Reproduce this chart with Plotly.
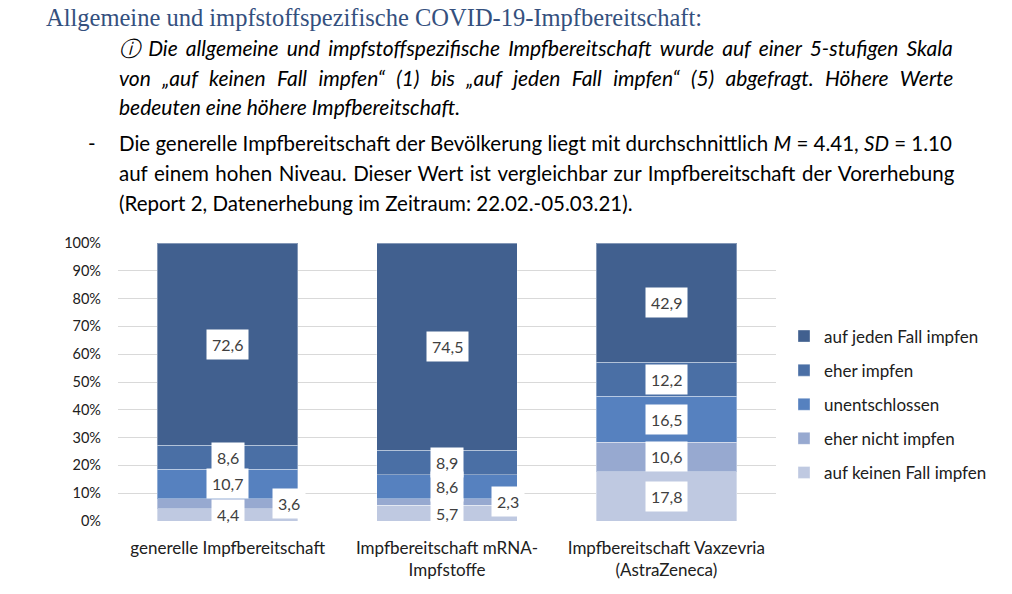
import plotly.graph_objects as go

# ── data ─────────────────────────────────────────────────────────────
categories = [
    "generelle Impfbereitschaft",
    "Impfbereitschaft mRNA-<br>Impfstoffe",
    "Impfbereitschaft Vaxzevria<br>(AstraZeneca)",
]
series_names = [
    "auf keinen Fall impfen",
    "eher nicht impfen",
    "unentschlossen",
    "eher impfen",
    "auf jeden Fall impfen",
]
values = [
    [4.4, 5.7, 17.8],    # auf keinen Fall impfen
    [3.6, 2.3, 10.6],    # eher nicht impfen
    [10.7, 8.6, 16.5],   # unentschlossen
    [8.6, 8.9, 12.2],    # eher impfen
    [72.6, 74.5, 42.9],  # auf jeden Fall impfen
]
y_ticks = list(range(0, 101, 10))
y_ticktext = [f"{t}%" for t in y_ticks]

colors = ["#bfc9e1", "#97a9d0", "#5681bf", "#4a6fa5", "#41608f"]

title_text = "Allgemeine und impfstoffspezifische COVID-19-Impfbereitschaft:"
info_lines = [
    "ⓘ Die allgemeine und impfstoffspezifische Impfbereitschaft wurde auf einer 5-stufigen Skala",
    "von „auf keinen Fall impfen“ (1) bis „auf jeden Fall impfen“ (5) abgefragt. Höhere Werte",
    "bedeuten eine höhere Impfbereitschaft.",
]
bullet_lines = [
    "Die generelle Impfbereitschaft der Bevölkerung liegt mit durchschnittlich <i>M</i> = 4.41, <i>SD</i> = 1.10",
    "auf einem hohen Niveau. Dieser Wert ist vergleichbar zur Impfbereitschaft der Vorerhebung",
    "(Report 2, Datenerhebung im Zeitraum: 22.02.-05.03.21).",
]
# extra spacing per word gap so the justified lines end at the same margin
info_gaps = ["\u2006", "\u2006\u2006", ""]
bullet_gaps = ["", "\u200a", ""]

FONT = "Lato"
W, H = 1012, 594

fig = go.Figure()
for rank, (name, vals, col) in enumerate(zip(series_names, values, colors)):
    fig.add_trace(go.Bar(
        x=list(range(len(categories))), y=vals, name=name,
        marker=dict(color=col, line=dict(color="rgba(255,255,255,0.35)", width=1)),
        width=0.64, legendgroup=name, legendrank=1000 - rank,
        hovertemplate="%{y}<extra>" + name + "</extra>",
    ))

# data labels in white boxes, small segments pushed to the right
annotations = []
for ci in range(len(categories)):
    base = 0.0
    for si, vals in enumerate(values):
        v = vals[ci]
        mid = base + v / 2
        xpos = ci + (0.28 if v < 4 else 0)
        annotations.append(dict(
            x=xpos, y=mid, xref="x", yref="y",
            text=f"{v:.1f}".replace(".", ","), showarrow=False,
            font=dict(family=FONT, size=16, color="#404040"),
            bgcolor="white", borderpad=5,
        ))
        base += v

# plot area in page pixels
plot_l, plot_r, plot_t, plot_b = 118, 776, 243, 521


def page(px, py):
    """page pixel -> paper coords of the plot area"""
    return (px - plot_l) / (plot_r - plot_l), (plot_b - py) / (plot_b - plot_t)


text_ann = []
x0, y0 = page(44, 18)
text_ann.append(dict(
    x=x0, y=y0, text=title_text,
    font=dict(family="Liberation Serif", size=24.5, color="#34507e"),
))
for i, (line, gap) in enumerate(zip(info_lines, info_gaps)):
    x0, y0 = page(117, 48 + 29.5 * i)
    text_ann.append(dict(
        x=x0, y=y0, text="<i>" + line.replace(" ", " " + gap) + "</i>",
        font=dict(family=FONT, size=21, color="black"),
    ))
x0, y0 = page(86, 143)
text_ann.append(dict(x=x0, y=y0, text="-", font=dict(family=FONT, size=20.5, color="black")))
for i, (line, gap) in enumerate(zip(bullet_lines, bullet_gaps)):
    x0, y0 = page(117, 143 + 30 * i)
    text_ann.append(dict(
        x=x0, y=y0, text=line.replace(" ", " " + gap),
        font=dict(family=FONT, size=20.5, color="black"),
    ))
for a in text_ann:
    a.update(xref="paper", yref="paper", xanchor="left", yanchor="middle", showarrow=False)
annotations += text_ann

lx, ly = page(784, 404.5)

fig.update_layout(
    width=W, height=H,
    margin=dict(l=plot_l, r=W - plot_r, t=plot_t, b=H - plot_b, pad=0),
    barmode="stack",
    paper_bgcolor="white", plot_bgcolor="white",
    font=dict(family=FONT, size=16, color="#202020"),
    xaxis=dict(
        tickvals=list(range(len(categories))), ticktext=categories,
        range=[-0.5, len(categories) - 0.5], showgrid=False, zeroline=False,
        showline=False, ticks="", tickfont=dict(size=17, color="#202020"),
        ticklabelstandoff=15, automargin=False,
    ),
    yaxis=dict(
        range=[0, 100], tickvals=y_ticks, ticktext=y_ticktext,
        showgrid=True, gridcolor="#d9d9d9", gridwidth=1.3, zeroline=False,
        showline=False, ticks="", tickfont=dict(size=14.5, color="#202020"),
        ticklabelstandoff=16, automargin=False,
    ),
    legend=dict(
        x=lx, y=ly, xanchor="left", yanchor="middle",
        traceorder="grouped", tracegroupgap=9,
        font=dict(family=FONT, size=17, color="#202020"),
        itemwidth=30, bgcolor="rgba(0,0,0,0)",
    ),
    annotations=annotations,
)

# drop the default 8px body margin so the figure fills the window exactly
fig.write_html(
    "out.html",
    config={"displayModeBar": False},
    post_script="document.body.style.margin = '0';",
)
